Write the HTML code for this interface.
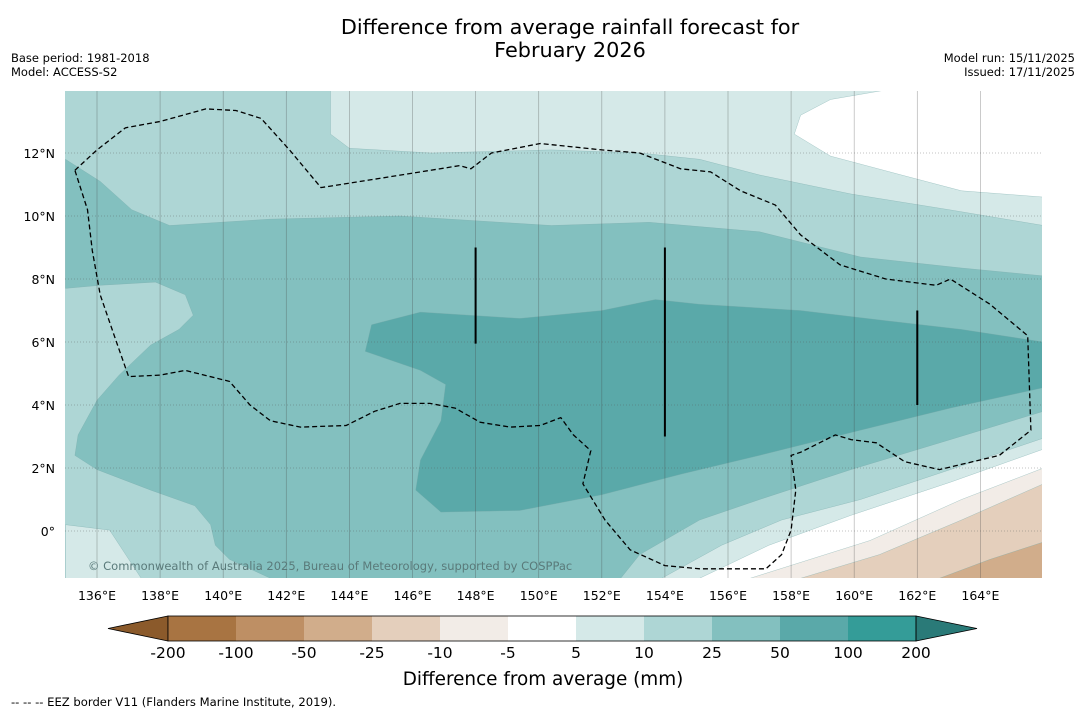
<!DOCTYPE html>
<html><head><meta charset="utf-8"><style>
body{margin:0;background:#fff;}
svg{display:block;font-family:"DejaVu Sans","Liberation Sans",sans-serif;}
</style></head><body>
<svg id="chart" width="1085" height="713" viewBox="0 0 1085 713">
<text x="570" y="34" font-size="20.8" text-anchor="middle">Difference from average rainfall forecast for</text>
<text x="570" y="57" font-size="20.8" text-anchor="middle">February 2026</text>
<text x="11" y="62" font-size="11.5">Base period: 1981-2018</text>
<text x="11" y="76" font-size="11.5">Model: ACCESS-S2</text>
<text x="1075" y="62" font-size="11.5" text-anchor="end">Model run: 15/11/2025</text>
<text x="1075" y="76" font-size="11.5" text-anchor="end">Issued: 17/11/2025</text>
<defs><clipPath id="mapclip"><rect x="65" y="91" width="977" height="487"/></clipPath></defs>
<g id="map" clip-path="url(#mapclip)"></g>
<g id="axes"></g>
<g id="cbar"></g>
<text x="543" y="685" font-size="18.4" text-anchor="middle">Difference from average (mm)</text>
<text x="11" y="706" font-size="11.6">--  --  -- EEZ border V11 (Flanders Marine Institute, 2019).</text>
</svg>
<script>
const lonTicks=[136,138,140,142,144,146,148,150,152,154,156,158,160,162,164];
const latTicks=[0,2,4,6,8,10,12];
const cbarLabels=["-200","-100","-50","-25","-10","-5","5","10","25","50","100","200"];
const cbarColors=["#a87442","#be8f64","#d1ad8b","#e4cfbc","#f2ece7","#ffffff","#d5e9e8","#aed6d5","#83c0bf","#5aa9a9","#349c98"];
const lightTop=[[143.4,14],[143.4,12.6],[144,12.15],[146.6,12],[150.4,12.1],[153.2,12],[155.1,11.8],[157,11.3],[159.9,10.7],[163,10.2],[166,9.7],[166,14]];
const whiteTop=[[161,14],[159.25,13.7],[158.3,13.2],[158.1,12.6],[159.25,11.9],[161.5,11.3],[163.4,10.8],[166,10.6],[166,14]];
const lightBL=[[135,0.2],[136.4,0.03],[137.4,-1.5],[135,-1.5]];
const band25=[[135,11.8],[136.1,11.1],[137.1,10.2],[138.3,9.7],[141.5,9.9],[145.6,10],[150.4,9.7],[153.5,9.8],[157,9.5],[160.2,8.7],[163.4,8.35],[166,8.1],[166,3.8],[163.05,2.9],[159.9,1.95],[157,1],[155.1,0.35],[153.2,-0.75],[152.6,-1.5],[141.5,-1.5],[140.2,-0.9],[139.75,-0.45],[139.6,0.2],[139.1,0.8],[137.7,1.3],[136,1.95],[135.3,2.4],[135.4,3.05],[136,4.15],[136.7,4.95],[137.7,5.9],[138.6,6.4],[139.05,6.85],[138.8,7.5],[137.85,7.9],[136.1,7.8],[135,7.7]];
const band50=[[144.5,5.7],[144.7,6.55],[146.25,6.95],[149.4,6.75],[152,7],[153.7,7.35],[155.1,7.2],[158.3,7],[160.8,6.7],[163.4,6.4],[166,6],[166,4.55],[163.05,3.9],[160.2,3.2],[157,2.4],[154.5,1.8],[152,1.15],[149.4,0.65],[146.9,0.6],[146.1,1.3],[146.25,2.25],[146.9,3.5],[147.05,4.65],[146.25,5.1]];
const bandP5=[[166,2.95],[163.05,1.95],[160.2,1],[157.7,0.35],[155.8,-0.45],[153.9,-1.5],[166,-1.5]];
const bandWhite=[[166,2.6],[163.05,1.55],[159.9,0.5],[157.3,-0.45],[155.1,-1.5],[166,-1.5]];
const bandM5=[[166,2],[163.4,1],[160.5,-0.3],[156.7,-1.5],[166,-1.5]];
const bandM10=[[166,1.5],[163.4,0.35],[160.8,-0.75],[158.3,-1.5],[166,-1.5]];
const bandM25=[[166,-0.35],[164.3,-0.9],[162.7,-1.5],[166,-1.5]];
const eez=[[135.3,11.45],[136,12.1],[136.9,12.8],[138,13],[139.45,13.4],[140.4,13.35],[141.2,13.1],[142.1,12.1],[143.1,10.9],[145,11.2],[147.5,11.6],[147.85,11.5],[148.5,12],[150.05,12.3],[152,12.1],[153.2,12],[154.5,11.5],[155.45,11.4],[156.4,10.8],[157.5,10.35],[158.3,9.4],[159.55,8.45],[161,8],[162.6,7.8],[163.05,8],[164.3,7.2],[165.5,6.2],[165.6,3.2],[164.6,2.4],[162.7,1.95],[161.6,2.2],[160.7,2.8],[159.9,2.9],[159.4,3.05],[158.3,2.5],[158,2.4],[158.15,1.3],[158,0.03],[157.7,-0.75],[157.2,-1.2],[155.1,-1.2],[154,-1.1],[152.9,-0.6],[152.1,0.35],[151.4,1.5],[151.65,2.55],[151.1,3.05],[150.7,3.6],[150.05,3.35],[149.1,3.3],[148.15,3.45],[147.35,3.9],[146.55,4.05],[145.6,4.05],[144.8,3.8],[143.9,3.35],[142.45,3.3],[141.5,3.5],[140.85,4],[140.2,4.75],[138.8,5.1],[138,4.95],[137,4.9],[136.6,6.05],[136.1,7.5],[135.85,8.9],[135.7,10.2],[135.3,11.45]];
const islandLines=[[148,9,5.95],[154,9,3],[162,7,4]];

const NS="http://www.w3.org/2000/svg";
function X(lon){return 97+(lon-136)*31.55;}
function Y(lat){return 531-lat*31.5;}
function mk(t,a,p){const e=document.createElementNS(NS,t);for(const k in a)e.setAttribute(k,a[k]);p.appendChild(e);return e;}
function pts(arr){return arr.map(p=>X(p[0]).toFixed(1)+","+Y(p[1]).toFixed(1)).join(" ");}
const map=document.getElementById("map");
const bg=mk("rect",{x:65,y:91,width:977,height:487,fill:"#aed6d5"},map);


const layers=[[lightTop,"#d5e9e8","region-5-10-north"],[whiteTop,"#ffffff","region-dry-northeast"],[lightBL,"#d5e9e8","region-5-10-southwest"],[band25,"#83c0bf","region-25-50"],[band50,"#5aa9a9","region-50-100"],[bandP5,"#d5e9e8","region-5-10-southeast"],[bandWhite,"#ffffff","region-neutral-southeast"],[bandM5,"#f2ece7","region-minus5-10"],[bandM10,"#e4cfbc","region-minus10-25"],[bandM25,"#d1ad8b","region-minus25-50"]];
layers.forEach(l=>{
 const e=mk("polygon",{points:pts(l[0]),fill:l[1],stroke:"#7aa",["stroke-width"]:0.3},map);
 
 
});
lonTicks.forEach(v=>{
 const e=mk("line",{x1:X(v),x2:X(v),y1:91,y2:578,stroke:"#444",["stroke-width"]:0.7,"stroke-opacity":0.4},map);
 
 
});
latTicks.forEach(v=>{
 const e=mk("line",{x1:65,x2:1042,y1:Y(v),y2:Y(v),stroke:"#555",["stroke-width"]:0.6,["stroke-dasharray"]:"1,2","stroke-opacity":0.7},map);
 
 
});
const ez=mk("polyline",{points:pts(eez),fill:"none",stroke:"#000",["stroke-width"]:1.3,["stroke-dasharray"]:"5,3"},map);


islandLines.forEach(l=>{
 const e=mk("line",{x1:X(l[0]),x2:X(l[0]),y1:Y(l[1]),y2:Y(l[2]),stroke:"#000",["stroke-width"]:2},map);
 
 
});
const cp=mk("text",{x:88,y:570,"font-size":11.5,fill:"#5a7a7a"},map);
cp.textContent="© Commonwealth of Australia 2025, Bureau of Meteorology, supported by COSPPac";


const axes=document.getElementById("axes");
lonTicks.forEach(v=>{
 const t=mk("text",{x:X(v),y:600,"font-size":12.5,"text-anchor":"middle"},axes);
 t.textContent=v+"°E";
 
 
});
latTicks.forEach(v=>{
 const t=mk("text",{x:55,y:Y(v)+5,"font-size":12.5,"text-anchor":"end"},axes);
 t.textContent=v===0?"0°":v+"°N";
 
 
});
const cb=document.getElementById("cbar");
const x0=168,w=68,y0=616,h=25;
const lt=mk("polygon",{points:`${x0},${y0} ${x0},${y0+h} 108,${y0+h/2}`,fill:"#8b5a2b",stroke:"#000",["stroke-width"]:0.8},cb);


cbarColors.forEach((c,i)=>{
 const r=mk("rect",{x:x0+i*w,y:y0,width:w,height:h,fill:c},cb);
 
 
});
const xe=x0+cbarColors.length*w;
const rt=mk("polygon",{points:`${xe},${y0} ${xe},${y0+h} 977,${y0+h/2}`,fill:"#2a7a78",stroke:"#000",["stroke-width"]:0.8},cb);


mk("rect",{x:x0,y:y0,width:xe-x0,height:h,fill:"none",stroke:"#000",["stroke-width"]:0.8},cb);
cbarLabels.forEach((s,i)=>{
 const t=mk("text",{x:x0+i*w,y:658,"font-size":15.5,"text-anchor":"middle"},cb);
 t.textContent=s;
 
 
});
</script>
</body></html>
